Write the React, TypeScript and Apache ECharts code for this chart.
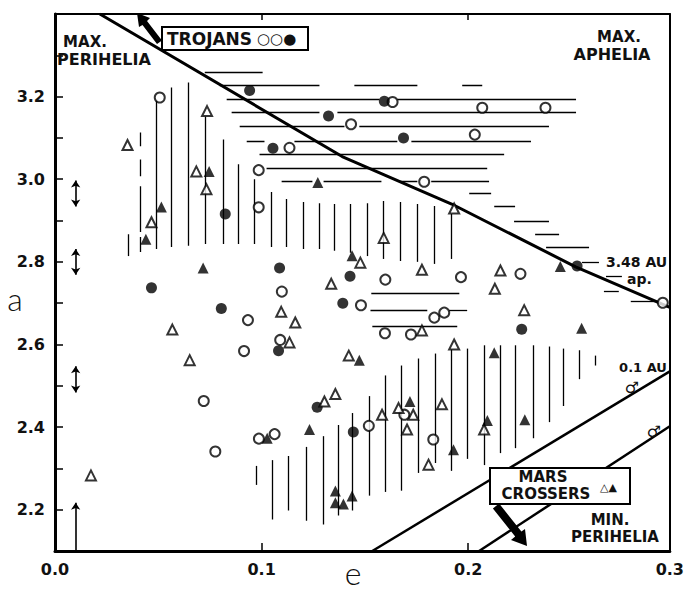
import React, { useEffect, useRef } from 'react';
import * as echarts from 'echarts';

// [e, a]
const openCircles: number[][] = [
  [0.0507, 3.198], [0.0986, 3.022], [0.0986, 2.932], [0.1634, 3.187], [0.1433, 3.133],
  [0.1135, 3.076], [0.1787, 2.994], [0.2068, 3.173], [0.2374, 3.173], [0.2032, 3.108],
  [0.1599, 2.757], [0.1965, 2.763], [0.1098, 2.728], [0.2253, 2.771], [0.2942, 2.701],
  [0.1836, 2.665], [0.1884, 2.677], [0.1723, 2.624], [0.1597, 2.627], [0.1481, 2.695],
  [0.0934, 2.659], [0.109, 2.611], [0.0915, 2.584], [0.072, 2.463], [0.0987, 2.372],
  [0.1063, 2.383], [0.0776, 2.341], [0.1519, 2.403], [0.1691, 2.43], [0.1831, 2.37],
];
const filledCircles: number[][] = [
  [0.0942, 3.215], [0.1594, 3.189], [0.1324, 3.153], [0.1687, 3.1], [0.1055, 3.075],
  [0.0824, 2.916], [0.1087, 2.785], [0.1428, 2.765], [0.0467, 2.737], [0.2527, 2.79],
  [0.0805, 2.687], [0.1393, 2.7], [0.1082, 2.585], [0.2259, 2.637], [0.1269, 2.448],
  [0.1444, 2.388],
];
const openTriangles: number[][] = [
  [0.0351, 3.083], [0.0736, 3.165], [0.0684, 3.019], [0.0733, 2.976], [0.0467, 2.896],
  [0.1932, 2.929], [0.1591, 2.858], [0.1478, 2.798], [0.1337, 2.747], [0.1776, 2.781],
  [0.2156, 2.779], [0.2129, 2.735], [0.2271, 2.683], [0.1776, 2.634], [0.1932, 2.6],
  [0.1873, 2.455], [0.1734, 2.43], [0.1704, 2.394], [0.2077, 2.394], [0.1808, 2.309],
  [0.1095, 2.679], [0.1163, 2.653], [0.1135, 2.605], [0.1422, 2.573], [0.1357, 2.48],
  [0.1304, 2.462], [0.1583, 2.43], [0.1663, 2.446], [0.0568, 2.636], [0.0652, 2.562],
  [0.0174, 2.283],
];
const filledTriangles: number[][] = [
  [0.0515, 2.933], [0.044, 2.855], [0.0746, 3.019], [0.0717, 2.785], [0.1272, 2.992],
  [0.1438, 2.815], [0.2446, 2.789], [0.2549, 2.639], [0.2126, 2.58], [0.1473, 2.562],
  [0.1718, 2.462], [0.2093, 2.416], [0.2274, 2.418], [0.1929, 2.345], [0.1232, 2.394],
  [0.1027, 2.373], [0.1357, 2.245], [0.1357, 2.217], [0.1396, 2.214], [0.1438, 2.233],
];

// vertical hatching: [e, a bottom, a top]
const hatchVertical: number[][] = [
  [0.0354, 2.814, 2.867],
  [0.0411, 3.08, 3.113], [0.0411, 3.007, 3.048], [0.0411, 2.872, 2.983], [0.0411, 2.824, 2.86],
  [0.0488, 2.831, 3.193], [0.0565, 2.836, 3.222], [0.0643, 2.839, 3.234], [0.0729, 2.843, 3.151],
  [0.0812, 2.843, 3.096], [0.0889, 2.843, 3.036], [0.0966, 2.843, 3.0], [0.1048, 2.836, 2.969],
  [0.1121, 2.836, 2.952], [0.1203, 2.831, 2.945], [0.128, 2.831, 2.942], [0.1353, 2.827, 2.94],
  [0.143, 2.822, 2.94], [0.1512, 2.814, 2.942], [0.1589, 2.807, 2.947], [0.1671, 2.802, 2.945],
  [0.1754, 2.8, 2.94], [0.1836, 2.795, 2.935], [0.1918, 2.807, 2.916],
  [0.0976, 2.26, 2.306], [0.1053, 2.176, 2.32], [0.113, 2.198, 2.33], [0.1217, 2.173, 2.352],
  [0.13, 2.164, 2.378], [0.1372, 2.186, 2.405], [0.144, 2.198, 2.434], [0.1522, 2.234, 2.475],
  [0.1599, 2.243, 2.525], [0.1676, 2.246, 2.549], [0.1758, 2.289, 2.566], [0.1841, 2.313, 2.578],
  [0.1918, 2.294, 2.588], [0.1995, 2.323, 2.59], [0.2077, 2.308, 2.598], [0.2155, 2.337, 2.598],
  [0.2227, 2.349, 2.598], [0.2314, 2.373, 2.598], [0.2391, 2.412, 2.595], [0.2459, 2.451, 2.59],
  [0.2536, 2.516, 2.586], [0.2614, 2.549, 2.573],
];

// horizontal hatching: [a, e start, e end]
const hatchHorizontal: number[][] = [
  [3.258, 0.0725, 0.1005],
  [3.227, 0.0797, 0.128], [3.227, 0.1449, 0.1754], [3.227, 0.1971, 0.2068],
  [3.194, 0.0831, 0.157], [3.194, 0.1657, 0.2522],
  [3.161, 0.0855, 0.128], [3.161, 0.1367, 0.2522],
  [3.128, 0.0894, 0.1401], [3.128, 0.1473, 0.2391],
  [3.091, 0.0928, 0.1014], [3.091, 0.1159, 0.1657], [3.091, 0.1725, 0.2304],
  [3.06, 0.099, 0.2174],
  [3.026, 0.1024, 0.2092],
  [2.995, 0.1097, 0.1246], [2.995, 0.13, 0.158], [2.995, 0.1667, 0.1754], [2.995, 0.1821, 0.2101],
  [2.966, 0.2005, 0.2111], [2.935, 0.2126, 0.2227], [2.899, 0.2222, 0.2391],
  [2.867, 0.2324, 0.244], [2.836, 0.2377, 0.2585], [2.8, 0.2551, 0.2633],
  [2.764, 0.2667, 0.2744], [2.73, 0.2657, 0.2729], [2.704, 0.2787, 0.2923],
  [2.723, 0.1531, 0.1957], [2.682, 0.1527, 0.1802], [2.682, 0.1908, 0.1995],
  [2.643, 0.1536, 0.1947],
];

// boundary curves
const maxAphelionLine: number[][] = [[0.0217, 3.4], [0.139, 3.055], [0.192, 2.94], [0.252, 2.788], [0.2976, 2.69]];
const marsPlusLine: number[][] = [[0.1536, 2.1], [0.2976, 2.535]];
const marsLine: number[][] = [[0.2053, 2.1], [0.2976, 2.402]];

// uncertainty arrows at e = 0.01: [e, a0, a1]
const doubleArrows: number[][] = [[0.01, 2.934, 2.997], [0.01, 2.769, 2.831], [0.01, 2.484, 2.547]];
const singleArrow: number[][] = [[0.01, 2.1, 2.217]];

const xTickLabels = ['0.0', '0.1', '0.2', '0.3'];
const yTickLabels = ['2.2', '2.4', '2.6', '2.8', '3.0', '3.2'];

const FONT = 'DejaVu Sans';

function txt(text: string, x: number, y: number, size: number, align = 'center', weight: any = 'bold', family = FONT, vAlign = 'middle') {
  return {
    type: 'text', x, y, z: 20,
    style: {
      text, fontSize: size, fontWeight: weight, fontFamily: family, fill: '#111',
      align, verticalAlign: vAlign, textAlign: align, textVerticalAlign: vAlign,
    },
  };
}

export default function App() {
  const ref = useRef<HTMLDivElement>(null);
  useEffect(() => {
    const chart = echarts.init(ref.current!, null, { renderer: 'svg' });
    const hatchData = [
      ...hatchVertical.map(([e, a0, a1]) => ({ coords: [[e, a0], [e, a1]] })),
      ...hatchHorizontal.map(([a, e0, e1]) => ({ coords: [[e0, a], [e1, a]] })),
    ];
    const axisFont = { fontSize: 16, fontWeight: 'bold', fontFamily: FONT, color: '#111' };
    const option: any = {
      animation: false,
      backgroundColor: '#fff',
      grid: { left: 55, right: 16, top: 14, bottom: 39, show: false },
      xAxis: [
        {
          type: 'value', min: 0, max: 0.2976, interval: 0.1, position: 'bottom',
          axisLine: { show: true, onZero: false, lineStyle: { color: '#000', width: 3 } },
          axisTick: { show: true, inside: true, length: 8, lineStyle: { color: '#000', width: 1.5 } },
          axisLabel: {
            ...axisFont, margin: 10, showMaxLabel: true, showMinLabel: true,
            formatter: (v: number) => xTickLabels[Math.min(3, Math.round(v * 10))],
          },
          splitLine: { show: false },
        },
        {
          type: 'value', min: 0, max: 0.2976, interval: 0.1, position: 'top',
          axisLine: { show: true, onZero: false, lineStyle: { color: '#000', width: 2 } },
          axisTick: { show: true, inside: true, length: 6, lineStyle: { color: '#000', width: 1.5 } },
          axisLabel: { show: false }, splitLine: { show: false },
        },
      ],
      yAxis: [
        {
          type: 'value', min: 2.1, max: 3.4, interval: 0.1, position: 'left',
          axisLine: { show: true, onZero: false, lineStyle: { color: '#000', width: 3 } },
          axisTick: { show: true, inside: true, length: 8, lineStyle: { color: '#000', width: 1.5 } },
          axisLabel: {
            ...axisFont, margin: 10,
            formatter: (v: number) => {
              const k = Math.round(v * 10);
              const lbl = (k / 10).toFixed(1);
              return k % 2 === 0 && yTickLabels.indexOf(lbl) >= 0 ? lbl : '';
            },
          },
          splitLine: { show: false },
        },
        {
          type: 'value', min: 2.1, max: 3.4, interval: 0.1, position: 'right',
          axisLine: { show: true, onZero: false, lineStyle: { color: '#000', width: 2 } },
          axisTick: { show: false }, axisLabel: { show: false }, splitLine: { show: false },
        },
      ],
      series: [
        {
          type: 'lines', coordinateSystem: 'cartesian2d', silent: true, z: 2,
          lineStyle: { color: '#000', width: 1.3, opacity: 1 },
          data: hatchData,
        },
        {
          type: 'lines', coordinateSystem: 'cartesian2d', silent: true, z: 2,
          symbol: ['arrow', 'arrow'], symbolSize: 7,
          lineStyle: { color: '#000', width: 1.6, opacity: 1 },
          data: doubleArrows.map(([e, a0, a1]) => ({ coords: [[e, a0], [e, a1]] })),
        },
        {
          type: 'lines', coordinateSystem: 'cartesian2d', silent: true, z: 2,
          symbol: ['none', 'arrow'], symbolSize: 7,
          lineStyle: { color: '#000', width: 1.6, opacity: 1 },
          data: singleArrow.map(([e, a0, a1]) => ({ coords: [[e, a0], [e, a1]] })),
        },
        {
          type: 'line', data: maxAphelionLine, showSymbol: false, silent: true, z: 3,
          lineStyle: { color: '#000', width: 3 },
        },
        {
          type: 'line', data: marsPlusLine, showSymbol: false, silent: true, z: 3,
          lineStyle: { color: '#000', width: 2.5 },
        },
        {
          type: 'line', data: marsLine, showSymbol: false, silent: true, z: 3,
          lineStyle: { color: '#000', width: 2.5 },
        },
        {
          type: 'scatter', data: openCircles, symbol: 'circle', symbolSize: 10, z: 5,
          itemStyle: { color: '#fff', borderColor: '#000', borderWidth: 2 },
        },
        {
          type: 'scatter', data: filledCircles, symbol: 'circle', symbolSize: 11, z: 5,
          itemStyle: { color: '#000', borderColor: '#000', borderWidth: 0 },
        },
        {
          type: 'scatter', data: openTriangles, symbol: 'triangle', symbolSize: [10, 10], z: 5,
          itemStyle: { color: '#fff', borderColor: '#000', borderWidth: 2 },
        },
        {
          type: 'scatter', data: filledTriangles, symbol: 'triangle', symbolSize: [11, 11], z: 5,
          itemStyle: { color: '#000', borderColor: '#000', borderWidth: 0 },
        },
      ],
      graphic: [
        txt('MAX.', 85, 42, 15),
        txt('PERIHELIA', 104, 59, 16),
        txt('MAX.', 619, 37, 15),
        txt('APHELIA', 612, 54, 16),
        {
          type: 'polygon', z: 18,
          shape: { points: [[137, 13], [150, 18], [147, 21], [162, 40.5], [157, 44], [142.5, 25], [139, 27]] },
          style: { fill: '#000' },
        },
        { type: 'rect', z: 19, shape: { x: 162, y: 27, width: 146, height: 23 }, style: { fill: '#fff', stroke: '#000', lineWidth: 2 } },
        txt('TROJANS', 167, 39, 17, 'left'),
        txt('○○●', 257, 39, 15, 'left', 'normal'),
        txt('3.48 AU', 606, 262, 14, 'left'),
        txt('ap.', 627, 279, 14, 'left'),
        txt('0.1 AU', 643, 367, 13),
        txt('♂', 632, 387, 16, 'center', 'normal'),
        txt('♂', 654, 431, 16, 'center', 'normal'),
        {
          type: 'polygon', z: 18,
          shape: { points: [[527, 546], [525, 529], [521.4, 531.6], [499.1, 503.5], [492.9, 508.5], [515.2, 536.6], [511, 540]] },
          style: { fill: '#000' },
        },
        { type: 'rect', z: 19, shape: { x: 490, y: 468, width: 140, height: 36 }, style: { fill: '#fff', stroke: '#000', lineWidth: 2 } },
        txt('MARS', 543, 477, 15),
        txt('CROSSERS', 546, 494, 15),
        txt('△▲', 600, 487, 11, 'left', 'normal'),
        txt('MIN.', 610, 520, 15),
        txt('PERIHELIA', 615, 537, 15),
        txt('a', 15, 298, 32, 'center', 300, 'Lato'),
        txt('e', 353, 588, 32, 'center', 300, 'Lato', 'bottom'),
      ],
    };
    chart.setOption(option);
    return () => chart.dispose();
  }, []);
  return (
    <div
      ref={ref}
      style={{ position: 'absolute', left: 0, top: 0, width: 687, height: 590, background: '#fff' }}
    />
  );
}
